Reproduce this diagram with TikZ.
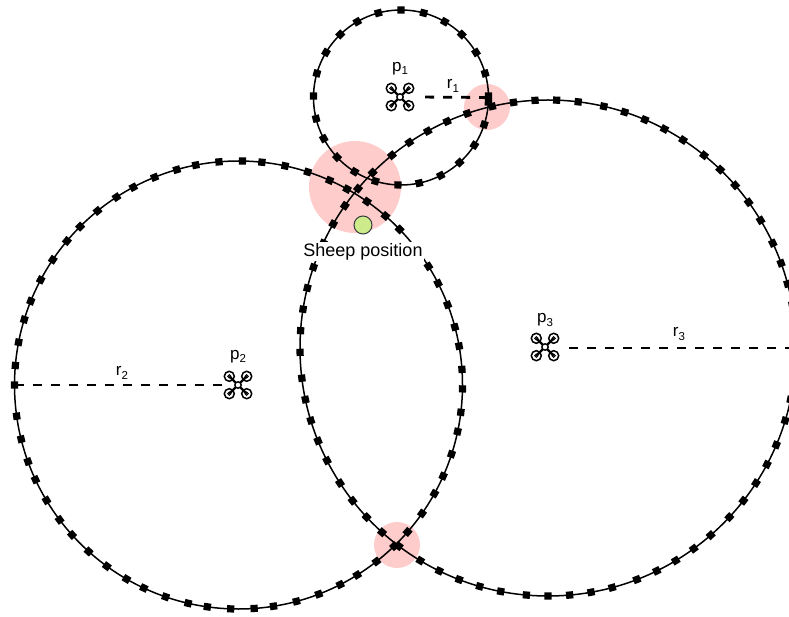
\documentclass[tikz,border=0pt]{standalone}
\usepackage{fontspec}
\setmainfont{Liberation Sans}
\usetikzlibrary{positioning}
\definecolor{spotpink}{HTML}{FFCCCC}
\definecolor{sheepgreen}{HTML}{CDEB8B}
\definecolor{sheepedge}{HTML}{36393D}
\newcommand{\lowidx}[1]{\raisebox{-3.5pt}{\fontsize{11.5}{12}\selectfont #1}}
\begin{document}
\begin{tikzpicture}[
  x=1pt, y=-1pt,
  ring/.style={draw, circle, line width=1.5pt, inner sep=0pt, outer sep=0pt},
  tick/.style={fill=black, minimum size=7.2pt, inner sep=0pt, outer sep=0pt},
  spot/.style={circle, fill=spotpink, inner sep=0pt},
  radius line/.style={dash pattern=on 9pt off 9pt, line width=2.8pt},
  dronebox/.style={minimum size=28pt, inner sep=0pt},
  lbl/.style={font=\fontsize{17}{19}\selectfont, inner sep=0pt},
  drone/.pic={
    \foreach \sx in {-1,1} \foreach \sy in {-1,1} {
      \draw[line width=1.5pt, fill=white] (\sx*8.7,\sy*8.7) circle[radius=5];
      \draw[line width=1pt] (\sx*8.7,\sy*8.7) circle[radius=1.6];
    }
    \draw[line width=2.2pt] (-8.7,-8.7) -- (8.7,8.7) (-8.7,8.7) -- (8.7,-8.7);
    \draw[line width=1.4pt, fill=white] (0,0) circle[radius=3.2];
  }
]
  \clip (0,0) rectangle (789,617);
  % pink areas first
  \node[spot, minimum size=92pt] (big)   at (355,187) {};
  \node[spot, minimum size=46pt] (upper) at (487,107) {};
  \node[spot, minimum size=46pt] (lower) at (397,545) {};

  % the three circles
  \node[ring, minimum size=175pt] (c1) at (401,97.5) {};
  \node[ring, minimum size=448pt] (c2) at (238.5,385) {};
  \node[ring, minimum size=496pt] (c3) at (548,348) {};

  \foreach \k [evaluate=\k as \a using 1.6+\k*14.81] in {0,...,24}
    \node[tick, rotate=\a] (m1-\k) at (c1.\a) {};
  \foreach \k [evaluate=\k as \a using 180.8-\k*5.693] in {0,...,62}
    \node[tick, rotate=\a] (m2-\k) at (c2.\a) {};
  \foreach \k [evaluate=\k as \a using \k*5.2] in {0,...,69}
    \node[tick, rotate=\a] (m3-\k) at (c3.\a) {};

  % drones
  \node[dronebox] (p1) at (400,97) {};
  \node[dronebox] (p2) at (238,385) {};
  \node[dronebox] (p3) at (545,347) {};
  \pic at (p1) {drone};
  \pic at (p2) {drone};
  \pic at (p3) {drone};
  \node[lbl, above=8pt of p1] (p1txt) {p\lowidx{1}};
  \node[lbl, above=8pt of p2] (p2txt) {p\lowidx{2}};
  \node[lbl, above=6pt of p3] (p3txt) {p\lowidx{3}};

  \draw[radius line, shorten <=11pt] (p1.east) -- (c1.east);
  \draw[radius line] (c2.west) -- (p2.west);
  \draw[radius line, shorten <=10pt] (p3.east |- c3) -- (c3.east);
  \node[lbl] (r1txt) at (453,86) {r\lowidx{1}};
  \node[lbl] (r2txt) at (122,373) {r\lowidx{2}};
  \node[lbl] (r3txt) at (679,334) {r\lowidx{3}};

  % sheep
  \node[draw=sheepedge, fill=sheepgreen, circle, line width=1pt, minimum size=18pt, inner sep=0pt] (sheep) at (363,225) {};
  \node[fill=white, inner sep=1pt, font=\fontsize{18}{20}\selectfont, below=7.5pt of sheep] (sheeptxt) {Sheep position};
\end{tikzpicture}
\end{document}
